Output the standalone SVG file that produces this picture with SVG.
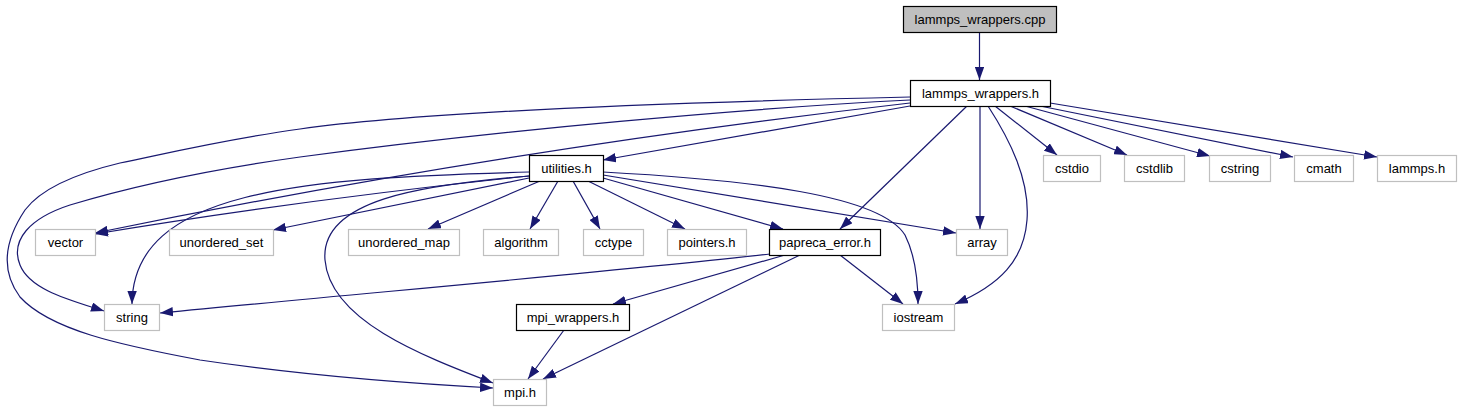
<svg xmlns="http://www.w3.org/2000/svg" width="1462" height="411" viewBox="0 0 1462 411">
<style>
.n rect{fill:#fff;stroke:#bfbfbf;stroke-width:1.2}
.n.d rect{stroke:#000}
.n.r rect{fill:#bfbfbf;stroke:#000}
.n text{font-family:"Liberation Sans",Arial,Helvetica,sans-serif;font-size:13px;fill:#000;text-anchor:middle}
#edges path{fill:none;stroke:#191970;stroke-width:1.2;marker-end:url(#ah)}
</style>
<defs>
<marker id="ah" markerUnits="userSpaceOnUse" viewBox="0 0 13 9.4" markerWidth="13" markerHeight="9.4" refX="13" refY="4.7" orient="auto">
<path d="M0,0 L13,4.7 L0,9.4 z" fill="#191970"/>
</marker>
</defs>
<rect width="1462" height="411" fill="#fff"/>
<g id="edges">
<path d="M979.5,32 L979.5,80"/>
<path d="M910,97 C 600,104 400,115 300,129 C 220,140 160,155 120,163 C 70,175 40,190 25,210 C 5,240 0,270 20,297 C 50,330 120,345 200,360 C 300,375 400,383 493,388"/>
<path d="M910,100 C 750,108 500,130 300,157 C 200,171 120,190 70,205 C 30,218 10,240 20,265 C 30,290 70,300 104,311"/>
<path d="M910,103 Q 500,150 95,233"/>
<path d="M910,106 L603,160"/>
<path d="M967,106 L840,229"/>
<path d="M980,106 L980,229"/>
<path d="M988,106 C 1010,140 1030,180 1027,220 C 1024,260 1000,285 955,304"/>
<path d="M995,106 L1057,155"/>
<path d="M1010,106 L1127,155"/>
<path d="M1025,106 L1210,156"/>
<path d="M1040,106 L1293,157"/>
<path d="M1050,103 L1377,157"/>
<path d="M529,176 Q 300,200 95,234"/>
<path d="M529,172 C 300,178 133,190 132,304"/>
<path d="M529,178 L273,230"/>
<path d="M529,176 C 420,185 320,200 325,260 C 330,320 420,355 493,383"/>
<path d="M540,181 L428,229"/>
<path d="M558,181 L530,229"/>
<path d="M573,181 L600,229"/>
<path d="M588,181 L685,229"/>
<path d="M603,178 L783,229"/>
<path d="M603,175 L956,233"/>
<path d="M603,172 C 750,180 880,195 905,235 C 915,255 918,280 918,304"/>
<path d="M770,254 C 650,268 400,290 160,313"/>
<path d="M785,255 L613,304"/>
<path d="M800,255 L543,379"/>
<path d="M840,255 L903,304"/>
<path d="M564,330 L528,379"/>
</g>
<g id="n_cpp" class="n r"><rect x="903.5" y="6.5" width="153" height="26"/><text x="980" y="23.5">lammps_wrappers.cpp</text></g>
<g id="n_lwh" class="n d"><rect x="910.5" y="80.5" width="140" height="26"/><text x="980.5" y="97.5">lammps_wrappers.h</text></g>
<g id="n_util" class="n d"><rect x="529.5" y="155.5" width="74" height="26"/><text x="566.5" y="172.5">utilities.h</text></g>
<g id="n_cstdio" class="n"><rect x="1043.5" y="155.5" width="57" height="26"/><text x="1072" y="172.5">cstdio</text></g>
<g id="n_cstdlib" class="n"><rect x="1124.5" y="155.5" width="60" height="26"/><text x="1154.5" y="172.5">cstdlib</text></g>
<g id="n_cstring" class="n"><rect x="1209.5" y="155.5" width="61" height="26"/><text x="1240" y="172.5">cstring</text></g>
<g id="n_cmath" class="n"><rect x="1294.5" y="155.5" width="59" height="26"/><text x="1324" y="172.5">cmath</text></g>
<g id="n_lammps" class="n"><rect x="1377.5" y="155.5" width="79" height="26"/><text x="1417" y="172.5">lammps.h</text></g>
<g id="n_vector" class="n"><rect x="35.5" y="229.5" width="60" height="26"/><text x="65.5" y="246.5">vector</text></g>
<g id="n_uset" class="n"><rect x="169.5" y="229.5" width="104" height="26"/><text x="221.5" y="246.5">unordered_set</text></g>
<g id="n_umap" class="n"><rect x="348.5" y="229.5" width="111" height="26"/><text x="404" y="246.5">unordered_map</text></g>
<g id="n_alg" class="n"><rect x="483.5" y="229.5" width="75" height="26"/><text x="521" y="246.5">algorithm</text></g>
<g id="n_cctype" class="n"><rect x="583.5" y="229.5" width="60" height="26"/><text x="613.5" y="246.5">cctype</text></g>
<g id="n_ptr" class="n"><rect x="667.5" y="229.5" width="79" height="26"/><text x="707" y="246.5">pointers.h</text></g>
<g id="n_perr" class="n d"><rect x="769.5" y="229.5" width="111" height="26"/><text x="825" y="246.5">papreca_error.h</text></g>
<g id="n_array" class="n"><rect x="956.5" y="229.5" width="51" height="26"/><text x="982" y="246.5">array</text></g>
<g id="n_string" class="n"><rect x="104.5" y="304.5" width="55" height="26"/><text x="132" y="321.5">string</text></g>
<g id="n_mpiw" class="n d"><rect x="516.5" y="304.5" width="113" height="26"/><text x="573" y="321.5">mpi_wrappers.h</text></g>
<g id="n_iostream" class="n"><rect x="882.5" y="304.5" width="72" height="26"/><text x="918.5" y="321.5">iostream</text></g>
<g id="n_mpi" class="n"><rect x="493.5" y="379.5" width="53" height="26"/><text x="520" y="396.5">mpi.h</text></g>
</svg>
